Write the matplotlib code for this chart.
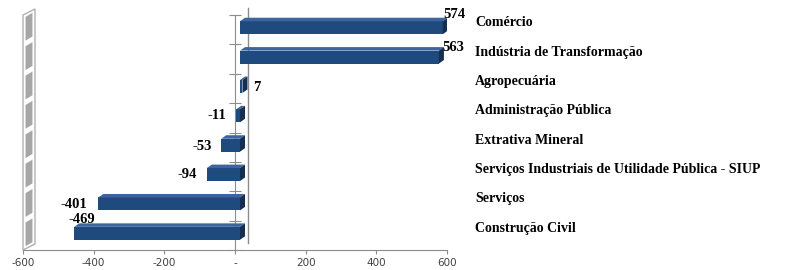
import matplotlib
matplotlib.use("Agg")
import matplotlib.pyplot as plt
import matplotlib.transforms as mtransforms
from matplotlib.patches import Polygon, Rectangle

# Data
setores = ["Comércio", "Indústria de Transformação", "Agropecuária",
           "Administração Pública", "Extrativa Mineral",
           "Serviços Industriais de Utilidade Pública - SIUP",
           "Serviços", "Construção Civil"]
saldo = [574, 563, 7, -11, -53, -94, -401, -469]
xticks = [-600, -400, -200, 0, 200, 400, 600]
xtick_labels = ["-600", "-400", "-200", "-", "200", "400", "600"]

# label offsets in pixels (dx, dy), relative to bar end
label_off = [(-5, 13), (-2, 10), (6, -1), (-10, 0), (-9, -1), (-10, 0), (-11, -1), (8, 14)]

face = "#1f4a7e"
top = "#3b659c"
side = "#142f52"
grey = "#8c8c8c"

fig = plt.figure(figsize=(7.93, 2.70), dpi=100)
ax = fig.add_axes([23 / 793, 20 / 270, 424 / 793, 235 / 270])
ax.set_xlim(-600, 600)
ax.set_ylim(len(setores) - 0.5, -0.5)

# 3d offset of the bars
shift = mtransforms.ScaledTranslation(0.05, 0.02, fig.dpi_scale_trans)
bar_tr = ax.transData + shift
h = 0.44
dx = 5 * 1200 / 424
dy = 3.5 / (235 / len(setores))

for i, v in enumerate(saldo):
    x0, x1 = min(0, v), max(0, v)
    yt, yb = i - h / 2, i + h / 2
    ax.add_patch(Rectangle((x0, yt), x1 - x0, h, facecolor=face, edgecolor="none",
                           transform=bar_tr, zorder=3))
    ax.add_patch(Polygon([(x0, yt), (x1, yt), (x1 + dx, yt - dy), (x0 + dx, yt - dy)],
                         closed=True, facecolor=top, edgecolor="none",
                         transform=bar_tr, zorder=3))
    ax.add_patch(Polygon([(x1, yt), (x1 + dx, yt - dy), (x1 + dx, yb - dy), (x1, yb)],
                         closed=True, facecolor=side, edgecolor="none",
                         transform=bar_tr, zorder=3))
    ox, oy = label_off[i]
    if v >= 0:
        ha = "left"
        xe = v + dx
    else:
        ha = "right" if i < len(saldo) - 1 else "center"
        xe = v
    ax.annotate(str(v), xy=(xe, i), xycoords=bar_tr, xytext=(ox * 0.72, oy * 0.72),
                textcoords="offset points", ha=ha, va="center",
                fontsize=10.5, fontweight="bold", family="Liberation Serif", zorder=5)

# category labels on the right
for i, s in enumerate(setores):
    ax.annotate(s, xy=(1, i), xycoords=("axes fraction", "data"),
                xytext=(28 * 0.72, 7 * 0.72), textcoords="offset points",
                ha="left", va="center", fontsize=10, fontweight="bold",
                family="Liberation Serif")

# axes styling
for sp in ["top", "right"]:
    ax.spines[sp].set_visible(False)
ax.spines["left"].set_position(("data", 0))
ax.spines["left"].set_color(grey)
ax.spines["bottom"].set_color(grey)
ax.set_yticks([k - 0.5 for k in range(len(setores) + 1)])
ax.set_yticklabels([])
ax.tick_params(axis="y", direction="inout", length=8, color=grey)
ax.set_xticks(xticks)
ax.set_xticklabels(xtick_labels)
ax.tick_params(axis="x", direction="out", length=3, color=grey, labelsize=7.5,
               labelcolor="#404040", pad=3)
ax.patch.set_visible(False)

# back line of the zero plane
back_tr = mtransforms.blended_transform_factory(ax.transData, ax.transAxes) + \
    mtransforms.ScaledTranslation(0.13, 0.07, fig.dpi_scale_trans)
ax.plot([0, 0], [0, 1], color=grey, lw=1, transform=back_tr, clip_on=False, zorder=1)

# left side wall
wx = 12 / 424
wy = 6 / 235
ax.add_patch(Polygon([(0, 0), (0, 1), (wx, 1 + wy), (wx, wy)], closed=True,
                     facecolor="white", edgecolor="#b0b0b0", lw=1,
                     transform=ax.transAxes, clip_on=False, zorder=1))
n = len(setores)
for k in range(n):
    y0 = k / n + 0.012
    y1 = (k + 1) / n - 0.012
    ax.add_patch(Polygon([(0.006, y0 + 0.004), (0.006, y1 + 0.004),
                          (wx - 0.006, y1 + wy - 0.004), (wx - 0.006, y0 + wy - 0.004)],
                         closed=True, facecolor="#a6a6a6", edgecolor="none",
                         transform=ax.transAxes, clip_on=False, zorder=1))

fig.savefig("out.png", dpi=100)
